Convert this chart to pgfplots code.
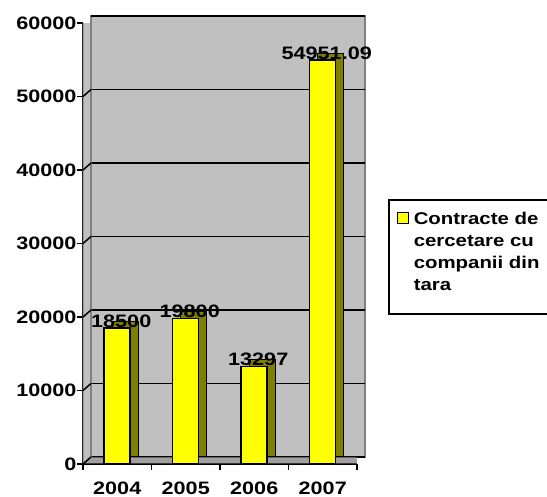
\documentclass[border=0pt]{standalone}
\usepackage{fontspec}
\setmainfont{Liberation Sans}[FakeStretch=1.2]
\usepackage{pgfplots}
\pgfplotsset{compat=1.18}
\usepackage{pgfplotstable}
\definecolor{wall}{HTML}{C0C0C0}
\definecolor{walledge}{HTML}{808080}
\definecolor{floorc}{HTML}{A0A0A0}
\definecolor{barside}{HTML}{808000}
\definecolor{baryellow}{HTML}{FFFF00}
\pgfplotstableread{
x y label
0 18500 18500
1 19800 19800
2 13297 13297
3 54951.09 54951.09
}\datatable
\newcommand{\lblfont}{\bfseries\fontsize{18}{20}\selectfont}
\begin{document}
\begin{tikzpicture}
\begin{axis}[
  scale only axis, width=274pt, height=441pt,
  xmin=-0.5, xmax=3.5, ymin=0, ymax=60000,
  enlargelimits=false,
  axis x line*=bottom, axis y line*=left,
  axis line style={-, black, line width=1.5pt},
  ybar, bar width=26pt,
  xtick={-0.5,0.5,1.5,2.5,3.5},
  x tick label as interval,
  xticklabels={2004,2005,2006,2007},
  ytick={0,10000,20000,30000,40000,50000,60000},
  tick align=outside,
  major tick length=6pt,
  tick style={black, line width=1.5pt},
  tick label style={font=\lblfont},
  xticklabel style={yshift=-8pt},
  yticklabel style={xshift=3pt},
  /pgf/number format/assume math mode=true,
  /pgf/number format/1000 sep={},
  scaled y ticks=false,
  ymajorgrids,
  major grid style={black, line width=1.5pt, xshift=8pt, yshift=7pt},
  axis background/.style={fill=wall, draw=walledge, line width=1.5pt, xshift=8pt, yshift=7pt},
  legend cell align=left,
  legend style={at={(axis description cs:1.084,0.585)}, anchor=north west,
    draw=black, line width=1.5pt, font=\bfseries\fontsize{17}{22}\selectfont,
    inner xsep=8pt, inner ysep=10pt,
    nodes={text depth=},
    cells={anchor=base west},
    /tikz/every odd column/.append style={column sep=3pt}},
]
\coordinate (o) at (rel axis cs:0,0);
% floor
\draw[fill=floorc, draw=black, line width=1pt]
  (rel axis cs:0,0) -- (rel axis cs:1,0) -- ([shift={(8pt,7pt)}]rel axis cs:1,0)
  -- ([shift={(8pt,7pt)}]rel axis cs:0,0) -- cycle;
% left wall
\draw[fill=wall, draw=walledge, line width=1.5pt]
  (rel axis cs:0,0) -- (rel axis cs:0,1) -- ([shift={(8pt,7pt)}]rel axis cs:0,1)
  -- ([shift={(8pt,7pt)}]rel axis cs:0,0) -- cycle;
\pgfplotsinvokeforeach{0,10000,20000,30000,40000,50000}{
  \draw[black, line width=1.5pt] (axis cs:-0.5,#1) -- ++(8pt,7pt);
}
\addplot[ybar, bar shift=0pt, fill=barside, draw=black, line width=1pt,
  xshift=8pt, yshift=7pt, forget plot] table[x=x,y=y]{\datatable};
\addplot[ybar, bar shift=0pt, fill=baryellow, draw=black, line width=1.5pt,
  nodes near coords, point meta=explicit symbolic,
  every node near coord/.style={font=\lblfont, anchor=center, xshift=4pt, yshift=7pt, text=black},
  legend image code/.code={\draw[fill=baryellow, draw=black, line width=1pt] (0pt,1pt) rectangle (11pt,12pt);}
  ] table[x=x,y=y,meta=label]{\datatable};
\addlegendentry{\parbox[t]{150pt}{Contracte de\\cercetare cu\\companii din\\tara\par\vspace*{12pt}}}
\end{axis}
\pgfresetboundingbox
\path[use as bounding box] ([shift={(-83pt,-33pt)}]o) rectangle ([shift={(464pt,464pt)}]o);
\end{tikzpicture}
\end{document}
